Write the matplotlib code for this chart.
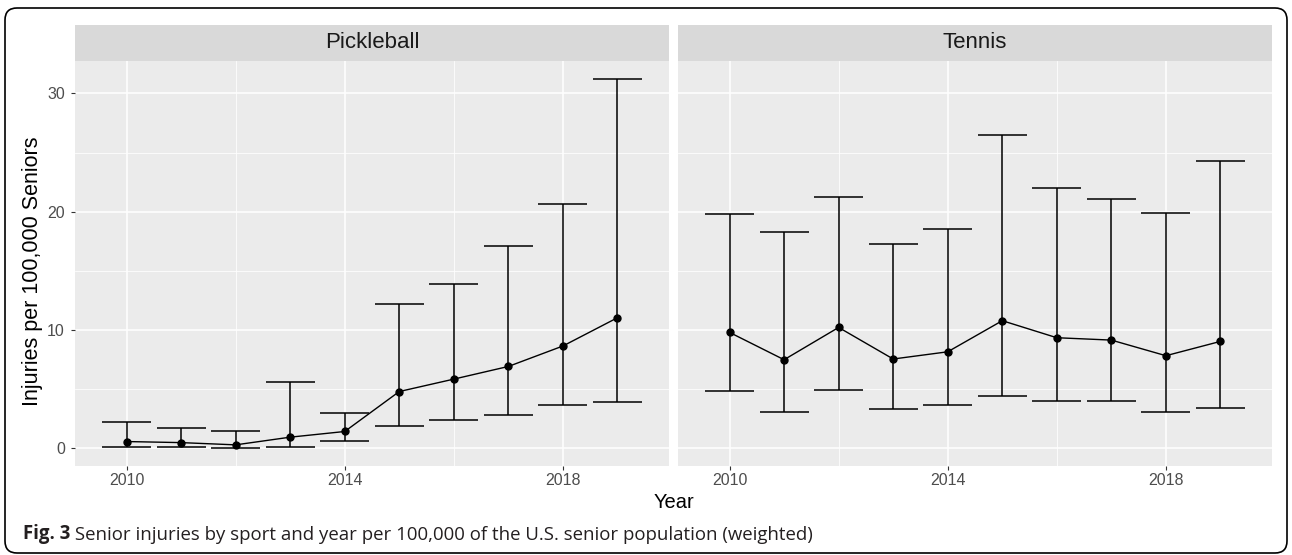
import numpy as np
import matplotlib
matplotlib.use("Agg")
import matplotlib.pyplot as plt
from matplotlib.patches import FancyBboxPatch

# data
years = np.arange(2010, 2020)
sports = ["Pickleball", "Tennis"]

pickle_rate = [0.56, 0.47, 0.28, 0.93, 1.41, 4.79, 5.84, 6.91, 8.64, 11.03]
pickle_lo = [0.14, 0.14, 0.05, 0.14, 0.62, 1.91, 2.42, 2.79, 3.64, 3.90]
pickle_hi = [2.25, 1.69, 1.41, 5.61, 3.01, 12.22, 13.91, 17.07, 20.66, 31.21]

tennis_rate = [9.79, 7.48, 10.21, 7.54, 8.15, 10.78, 9.34, 9.14, 7.82, 9.03]
tennis_lo = [4.83, 3.07, 4.94, 3.30, 3.61, 4.40, 3.95, 3.95, 3.07, 3.39]
tennis_hi = [19.81, 18.31, 21.25, 17.30, 18.54, 26.50, 21.98, 21.11, 19.92, 24.27]

x_ticks = [2010, 2014, 2018]
y_ticks = [0, 10, 20, 30]

caption_bold = "Fig. 3"
caption_rest = " Senior injuries by sport and year per 100,000 of the U.S. senior population (weighted)"

plt.rcParams['font.family'] = ['Liberation Sans', 'DejaVu Sans']

W, H = 1292, 555
fig = plt.figure(figsize=(W / 100, H / 100), dpi=100)

def box(x0, y0, x1, y1):
    # pixel box (top-left origin) -> figure fraction
    return [x0 / W, 1 - y1 / H, (x1 - x0) / W, (y1 - y0) / H]

cap_w = 0.9
all_lo = pickle_lo + tennis_lo
all_hi = pickle_hi + tennis_hi
ypad = 0.05 * (max(all_hi) - min(all_lo))
ylim = (min(all_lo) - ypad, max(all_hi) + ypad)
xr = (years[-1] + cap_w / 2) - (years[0] - cap_w / 2)
xlim = (years[0] - cap_w / 2 - 0.05 * xr, years[-1] + cap_w / 2 + 0.05 * xr)

series = [(pickle_rate, pickle_lo, pickle_hi), (tennis_rate, tennis_lo, tennis_hi)]
panel_x = [(75, 669), (678, 1272)]

for i, (name, (rate, lo, hi)) in enumerate(zip(sports, series)):
    x0, x1 = panel_x[i]
    ax = fig.add_axes(box(x0, 60.7, x1, 466))
    ax.set_facecolor('#EBEBEB')
    for s in ax.spines.values():
        s.set_visible(False)
    ax.set_xlim(xlim)
    ax.set_ylim(ylim)
    ax.set_xticks(x_ticks)
    ax.set_xticks([2012, 2016], minor=True)
    ax.set_yticks(y_ticks)
    ax.set_yticks([5, 15, 25], minor=True)
    ax.grid(which='major', color='white', lw=1.1)
    ax.grid(which='minor', color='white', lw=0.55)
    ax.set_axisbelow(True)
    ax.tick_params(which='minor', length=0)
    ax.tick_params(which='major', length=2.8, width=0.8, color='#333333',
                   labelsize=11.5, labelcolor='#4D4D4D')
    ax.tick_params(axis='x', pad=2.5)
    ax.tick_params(axis='y', pad=4.5)
    if i > 0:
        ax.tick_params(axis='y', length=0, labelleft=False)

    ax.vlines(years, lo, hi, color='black', lw=1.1, zorder=3)
    ax.hlines(lo, years - cap_w / 2, years + cap_w / 2, color='black', lw=1.1, zorder=3)
    ax.hlines(hi, years - cap_w / 2, years + cap_w / 2, color='black', lw=1.1, zorder=3)
    ax.plot(years, rate, '-o', color='black', lw=1.0, ms=5, zorder=4)

    # facet strip
    sax = fig.add_axes(box(x0, 25, x1, 60.7))
    sax.set_facecolor('#D9D9D9')
    sax.set_xticks([])
    sax.set_yticks([])
    for s in sax.spines.values():
        s.set_visible(False)
    sax.text(0.5, 0.5, name, ha='center', va='center', fontsize=16,
             color='#1A1A1A', transform=sax.transAxes)

fig.text(673.5 / W, 1 - 502 / H, "Year", ha='center', va='center', fontsize=14.5)
fig.text(33 / W, 1 - 271.5 / H, "Injuries per 100,000 Seniors", ha='center', va='center',
         rotation=90, fontsize=15.5)

# caption
t1 = fig.text(23 / W, 1 - 539.5 / H, caption_bold, fontsize=13.4, fontweight='bold',
              family='Open Sans', va='baseline', color='#231F20')
r = fig.canvas.get_renderer()
bb = t1.get_window_extent(renderer=r)
fig.text(bb.x1 / W, 1 - 539.5 / H, caption_rest, fontsize=13.4, family='Open Sans',
         va='baseline', color='#231F20')

# rounded frame around the figure
frame = FancyBboxPatch((0.05, 0.02), 12.82, 5.45,
                       boxstyle="round,pad=0,rounding_size=0.12",
                       transform=fig.dpi_scale_trans, fill=False, ec='black', lw=1.2)
fig.add_artist(frame)

fig.savefig("out.png", dpi=100)
